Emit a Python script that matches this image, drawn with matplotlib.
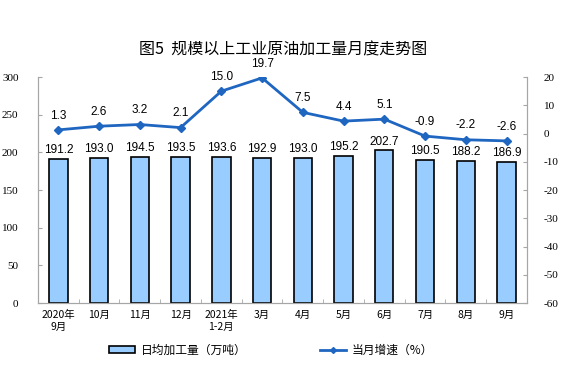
import matplotlib
matplotlib.use('Agg')
import matplotlib.pyplot as plt
import numpy as np
from matplotlib.patches import Patch
from matplotlib.lines import Line2D

plt.rcParams['font.family'] = ['Noto Sans CJK SC', 'DejaVu Sans']
plt.rcParams['axes.unicode_minus'] = False

months = ['2020年\n9月', '10月', '11月', '12月', '2021年\n1-2月', '3月',
          '4月', '5月', '6月', '7月', '8月', '9月']
daily_output = [191.2, 193.0, 194.5, 193.5, 193.6, 192.9,
                193.0, 195.2, 202.7, 190.5, 188.2, 186.9]
growth = [1.3, 2.6, 3.2, 2.1, 15.0, 19.7, 7.5, 4.4, 5.1, -0.9, -2.2, -2.6]

bar_color = '#99CCFF'
line_color = '#1F66C1'
spine_color = '#A6A6A6'
num_font = ['Liberation Sans', 'DejaVu Sans']
tick_font = ['Liberation Serif', 'Noto Sans CJK SC']

fig = plt.figure(figsize=(5.8, 3.68), dpi=100)
ax = fig.add_axes([0.0655, 0.1766, 0.843, 0.614])
ax2 = ax.twinx()

x = np.arange(len(months))
ax.bar(x, daily_output, width=0.45, color=bar_color, edgecolor='black',
       linewidth=1.2, zorder=2)
for xi, v in zip(x, daily_output):
    ax.annotate(f'{v:.1f}', (xi, v), xytext=(0, 2), textcoords='offset points',
                ha='center', va='bottom', fontsize=8.5, family=num_font)

ax2.plot(x, growth, color=line_color, linewidth=2, marker='D', markersize=4,
         zorder=3)
for xi, v in zip(x, growth):
    ax2.annotate(f'{v:.1f}', (xi, v), xytext=(0, 6), textcoords='offset points',
                 ha='center', va='bottom', fontsize=8.5, family=num_font)

ax.set_xlim(-0.5, len(months) - 0.5)
ax.set_ylim(0, 300)
ax.set_yticks(range(0, 301, 50))
ax2.set_ylim(-60, 20)
ax2.set_yticks(range(-60, 21, 10))

ax.set_xticks(x)
ax.set_xticklabels(months, fontsize=7.5, linespacing=1.3)
ax.set_xticks(np.arange(len(months) + 1) - 0.5, minor=True)
ax.tick_params(axis='x', which='major', length=0, pad=5)
ax.tick_params(axis='x', which='minor', length=3, direction='in',
               color=spine_color)
ax.tick_params(axis='y', direction='in', length=3, color=spine_color,
               labelsize=8, pad=14)
ax2.tick_params(axis='y', direction='in', length=3, color=spine_color,
                labelsize=8, pad=12)
for lab in ax.get_yticklabels() + ax2.get_yticklabels():
    lab.set_family(tick_font)

for a in (ax, ax2):
    a.spines['top'].set_visible(False)
    for s in ('left', 'right', 'bottom'):
        a.spines[s].set_color(spine_color)

fig.text(0.488, 0.864, '图5  规模以上工业原油加工量月度走势图', ha='center',
         va='center', fontsize=11.5)

handles = [Patch(facecolor=bar_color, edgecolor='black', linewidth=1.2),
           Line2D([], [], color=line_color, linewidth=2, marker='D',
                  markersize=3)]
fig.legend(handles, ['日均加工量（万吨）', '当月增速（%）'], loc='center',
           bbox_to_anchor=(0.468, 0.049), ncol=2, frameon=False, fontsize=8.5,
           columnspacing=6.2, handlelength=2.2, handleheight=0.5,
           handletextpad=0.5)

fig.savefig('out.png', dpi=100)
